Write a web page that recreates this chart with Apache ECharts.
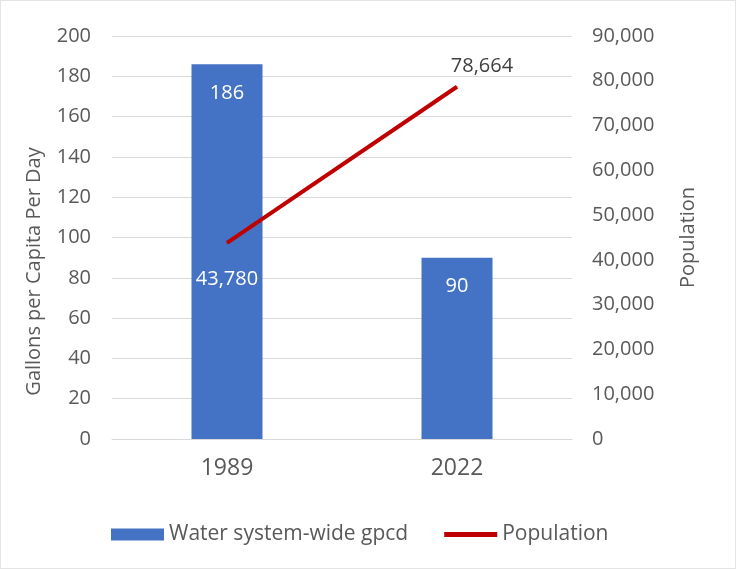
<!DOCTYPE html>
<html>
<head>
<meta charset="utf-8">
<script src="https://cdn.jsdelivr.net/npm/echarts@6/dist/echarts.min.js"></script>
<style>
  html, body { margin: 0; padding: 0; background: #fff; }
  #chart { width: 736px; height: 569px; box-sizing: border-box; border: 1px solid #e4e4e4; }
</style>
</head>
<body>
<div id="chart"></div>
<script>
// Water use per person vs. population
const years = ['1989', '2022'];
const gpcd = [186, 90];
const population = [43780, 78664];

const FONT = '"Open Sans", "Liberation Sans", sans-serif';
const GREY = '#595959';
const fmt = v => v.toLocaleString('en-US');

const chart = echarts.init(document.getElementById('chart'));
chart.setOption({
  backgroundColor: '#fff',
  animation: false,
  textStyle: { fontFamily: FONT },
  grid: { left: 111, right: 163, top: 35, bottom: 129 },
  legend: {
    bottom: 18,
    left: 105,
    itemGap: 36,
    itemWidth: 53,
    itemHeight: 12,
    textStyle: { fontSize: 21, color: GREY, fontFamily: FONT },
    data: [
      { name: 'Water system-wide gpcd', icon: 'rect' },
      {
        name: 'Population',
        icon: 'path://M0,0 L54,0 L54,5 L0,5 Z',
        itemStyle: { color: '#C00000' }
      }
    ]
  },
  xAxis: {
    type: 'category',
    data: years,
    axisLine: { lineStyle: { color: '#d9d9d9', width: 1 } },
    axisTick: { show: false },
    axisLabel: { fontSize: 23, color: GREY, margin: 18 }
  },
  yAxis: [
    {
      type: 'value',
      min: 0, max: 200, interval: 20,
      name: 'Gallons per Capita Per Day',
      nameLocation: 'middle',
      nameGap: 68,
      nameTextStyle: { fontSize: 20, color: GREY, padding: [0, 68, 0, 0] },
      axisLine: { show: false },
      axisTick: { show: false },
      axisLabel: { fontSize: 20, color: GREY, margin: 21 },
      splitLine: { lineStyle: { color: '#d9d9d9', width: 1 } }
    },
    {
      type: 'value',
      min: 0, max: 90000, interval: 10000,
      name: 'Population',
      nameLocation: 'middle',
      nameGap: 106,
      nameTextStyle: { fontSize: 20, color: GREY },
      axisLine: { show: false },
      axisTick: { show: false },
      splitLine: { show: false },
      axisLabel: { fontSize: 20, color: GREY, margin: 20, formatter: fmt }
    }
  ],
  series: [
    {
      name: 'Water system-wide gpcd',
      type: 'bar',
      data: gpcd,
      barWidth: 71,
      itemStyle: { color: '#4472C4' },
      label: {
        show: true, position: 'insideTop', distance: 19,
        color: '#fff', fontSize: 20
      }
    },
    {
      name: 'Population',
      type: 'line',
      yAxisIndex: 1,
      z: 3,
      symbol: 'circle',
      symbolSize: 1,
      showSymbol: true,
      lineStyle: { color: '#C00000', width: 4 },
      itemStyle: { color: '#C00000' },
      data: [
        {
          value: population[0],
          label: { show: true, position: 'bottom', distance: 26, color: '#fff' }
        },
        {
          value: population[1],
          label: { show: true, position: 'top', distance: 10, offset: [25, 0], color: '#404040' }
        }
      ],
      label: {
        show: true,
        fontSize: 20,
        fontFamily: FONT,
        formatter: p => fmt(p.value)
      }
    }
  ]
});
</script>
</body>
</html>
